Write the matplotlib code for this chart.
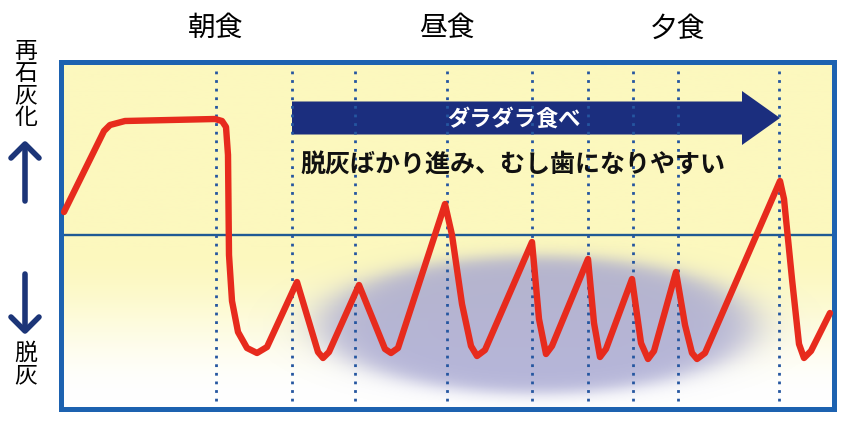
import numpy as np
import matplotlib
matplotlib.use('Agg')
import matplotlib.pyplot as plt
from matplotlib.patches import FancyArrow

plt.rcParams['font.family'] = ['Noto Sans CJK JP', 'DejaVu Sans']

# time axis (arbitrary units) and mouth level relative to the critical line (0)
curve_t = [3, 43, 49, 64, 154, 161, 165, 167, 168, 171, 177, 186, 196, 206,
           236, 257, 262, 268, 298, 324, 330, 337, 384, 391, 401, 410, 416, 424,
           471, 478, 485, 491, 527, 533, 539, 545, 571, 580, 587, 593,
           615, 624, 631, 636, 644, 719, 723, 731, 738, 743, 750, 769]
curve_level = [23, 104, 110, 114, 116, 114, 108, 80, -20, -66, -97, -113, -118, -112,
               -47, -117, -123, -117, -50, -114, -118, -113, 31, 0, -69, -111, -121, -115,
               -7, -84, -119, -111, -24, -88, -122, -114, -44, -108, -124, -116,
               -37, -90, -118, -124, -118, 54, 36, -44, -109, -123, -116, -78]

# times of eating (dotted lines); meals are labelled at three of them
eat_times = [155, 231, 294, 386, 471, 527, 572, 617, 718]
meal_names = ['朝食', '昼食', '夕食']
meal_times = [155, 386, 617]

snack_start, snack_end = 231, 719
snack_label = 'ダラダラ食べ'
message = '脱灰ばかり進み、むし歯になりやすい'

t_max = 773
y_min, y_max = -174, 173

fig = plt.figure(figsize=(8.53, 4.35), dpi=100)
W, H = 853, 435

ax = fig.add_axes([61 / W, (H - 410) / H, 773 / W, 347 / H])
ax.set_xlim(0, t_max)
ax.set_ylim(y_min, y_max)

# pale yellow -> white background
yy = np.linspace(y_max, y_min, 300)
f = np.clip((yy - (-165)) / (-15 - (-165)), 0, 1)
f = f * f * (3 - 2 * f)
top = np.array([252, 248, 190]) / 255
bot = np.array([255, 255, 255]) / 255
grad = (bot[None, :] * (1 - f[:, None]) + top[None, :] * f[:, None])[:, None, :]
ax.imshow(grad, extent=(0, t_max, y_min, y_max), aspect='auto', zorder=0)

# blurred purple-gray ellipse
gx, gy = np.meshgrid(np.linspace(0, t_max, 600), np.linspace(y_max, y_min, 300))
r = np.sqrt(((gx - 476) / 232) ** 2 + ((gy + 90) / 74) ** 2)
alpha = 0.82 / (1 + np.exp((r - 0.93) / 0.06))
blob = np.zeros(gx.shape + (4,))
blob[..., 0] = 0.65
blob[..., 1] = 0.65
blob[..., 2] = 0.82
blob[..., 3] = alpha
ax.imshow(blob, extent=(0, t_max, y_min, y_max), aspect='auto', zorder=1)

ax.axhline(0, color='#1f5a94', lw=1.7, zorder=2)

arrow = FancyArrow(snack_start, 117, snack_end - snack_start, 0, width=33,
                   head_width=54, head_length=38, length_includes_head=True,
                   color='#1b2e7e', lw=0, zorder=2)
ax.add_patch(arrow)

ax.vlines(eat_times, -166, 166, colors='#2556a0', lw=2.0,
          linestyles=(0, (1, 2.1)), zorder=3)

ax.text(453, 117, snack_label, color='white', fontsize=16,
        fontweight='bold', ha='center', va='center', zorder=4)
ax.text(239, 71, message, fontsize=18, fontweight='bold', color='#111111',
        ha='left', va='center', zorder=4)

ax.plot(curve_t, curve_level, color='#e72b1d', lw=4.6, solid_joinstyle='round',
        solid_capstyle='round', zorder=5)

trans = ax.get_xaxis_transform()
for name, t in zip(meal_names, meal_times):
    ax.text(t, 1.10, name, transform=trans, fontsize=20, ha='center', va='center')

ax.set_xticks([])
ax.set_yticks([])
for s in ax.spines.values():
    s.set_color('#1d62b0')
    s.set_linewidth(3.6)

# left side labels and arrows
deco = fig.add_axes([0, 0, 1, 1], zorder=-1)
deco.set_xlim(0, W)
deco.set_ylim(H, 0)
deco.axis('off')
for ch, y in zip('再石灰化', [52, 74, 96, 118]):
    deco.text(26, y, ch, fontsize=16.5, ha='center', va='center')
for ch, y in zip('脱灰', [353, 376]):
    deco.text(26, y, ch, fontsize=16.5, ha='center', va='center')
arr_kw = dict(color='#1c3578', lw=4.0, solid_capstyle='round', solid_joinstyle='round')
deco.plot([25, 25], [147, 202], **arr_kw)
deco.plot([11, 25, 39], [159, 145, 159], **arr_kw)
deco.plot([25, 25], [275, 330], **arr_kw)
deco.plot([11, 25, 39], [318, 332, 318], **arr_kw)

fig.savefig('out.png', dpi=100)
